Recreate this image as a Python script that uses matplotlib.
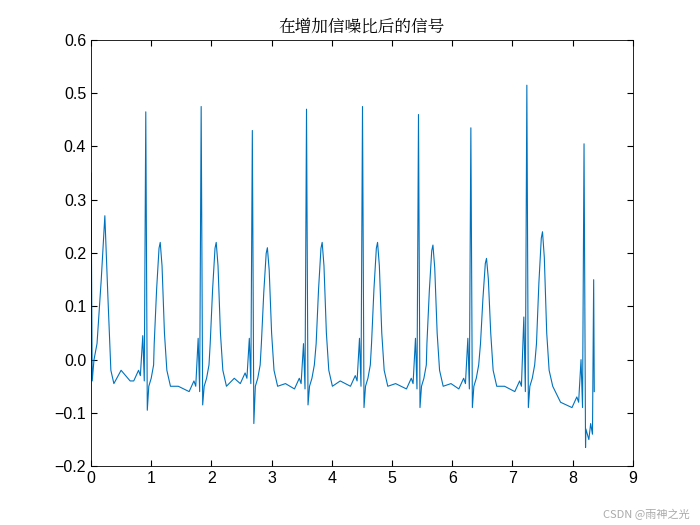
import matplotlib
matplotlib.use("Agg")
import matplotlib.pyplot as plt
import numpy as np

plt.rcParams['font.family'] = ['Liberation Sans', 'Noto Sans CJK SC']

# values
r_times = [0.91, 1.83, 2.68, 3.58, 4.51, 5.44, 6.31, 7.24, 8.19]
r_amps = [0.465, 0.475, 0.43, 0.47, 0.475, 0.46, 0.435, 0.515, 0.405]
s_amps = [-0.095, -0.085, -0.12, -0.085, -0.09, -0.09, -0.09, -0.09, -0.165]
pre_amps = [0.045, 0.04, 0.04, 0.03, 0.04, 0.04, 0.04, 0.08, 0.0]
t_times = [1.15, 2.08, 2.93, 3.84, 4.76, 5.68, 6.57, 7.50]
t_amps = [0.22, 0.22, 0.21, 0.22, 0.22, 0.215, 0.19, 0.24]
base_amps = [-0.04, -0.06, -0.045, -0.055, -0.05, -0.055, -0.055, -0.06, -0.09]
start_t = [0.0, 0.02, 0.05, 0.10, 0.17, 0.23, 0.28, 0.33, 0.38, 0.5, 0.65]
start_v = [0.35, -0.04, 0.0, 0.03, 0.15, 0.27, 0.12, -0.02, -0.045, -0.02, -0.04]
end_t = [8.22, 8.27, 8.30, 8.33, 8.35, 8.36]
end_v = [-0.13, -0.15, -0.12, -0.14, 0.15, -0.06]

ts, vs = list(start_t), list(start_v)
for i, tr in enumerate(r_times):
    b = base_amps[i]
    pts = [(tr-0.2, b), (tr-0.12, b+0.02), (tr-0.09, b+0.01), (tr-0.05, pre_amps[i]),
           (tr-0.025, b), (tr, r_amps[i]), (tr+0.025, s_amps[i])]
    if i < len(t_times):
        tt = t_times[i]
        T = t_amps[i]
        pts += [(tr+0.05, -0.05), (tr+0.09, -0.035), (tr+0.13, -0.01), (tt-0.1, 0.03),
                (tt-0.06, T*0.6), (tt-0.02, T*0.95), (tt, T), (tt+0.03, T*0.8),
                (tt+0.07, 0.05), (tt+0.11, -0.02), (tt+0.17, -0.05), (tt+0.3, base_amps[i+1]+0.01)]
    for t, v in pts:
        if t > ts[-1]:
            ts.append(t); vs.append(v)
ts += end_t; vs += end_v

fig = plt.figure(figsize=(7, 5.25), dpi=100)
ax = fig.add_axes([0.13, 0.112, 0.774, 0.812])
ax.plot(ts, vs, color='#0072BD', lw=0.8)
ax.set_xlim(0, 9); ax.set_ylim(-0.2, 0.6)
ax.set_xticks(range(10))
ax.set_yticks(np.round(np.arange(-0.2, 0.61, 0.1), 1))
ax.tick_params(direction='in', top=True, right=True, labelsize=11.5, length=4)
for s in ax.spines.values():
    s.set_linewidth(0.6)
ax.set_title('在增加信噪比后的信号', fontsize=12, fontfamily=['Noto Serif CJK SC', 'Noto Sans CJK SC'])
fig.text(0.985, 0.01, 'CSDN @雨神之光', ha='right', va='bottom', fontsize=8, color='#aaaaaa',
         fontfamily=['Noto Sans CJK SC'])
fig.savefig('out.png')
